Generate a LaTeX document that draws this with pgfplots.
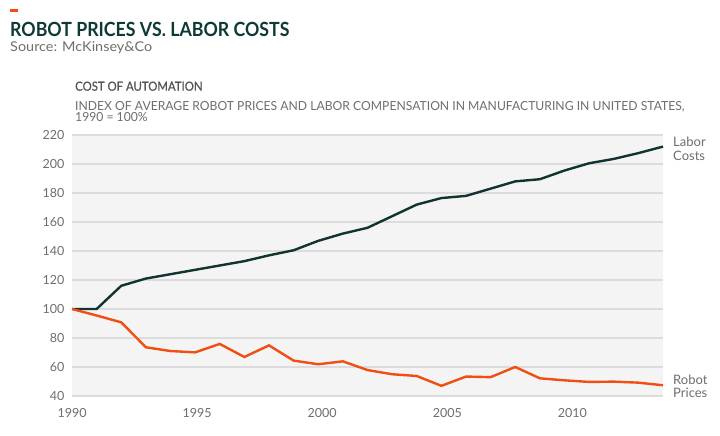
\documentclass[border=0pt]{standalone}
\usepackage{pgfplots}
\pgfplotsset{compat=1.18}
\usepackage{fontspec}
\setmainfont{Lato}
\newfontfamily\latomed{Lato}[FakeBold=0.8]
\definecolor{laborc}{RGB}{16,52,47}
\definecolor{robotc}{RGB}{240,78,18}
\definecolor{bgc}{RGB}{244,244,244}
\definecolor{gridc}{RGB}{220,220,220}
\definecolor{tickc}{RGB}{110,110,110}
\definecolor{titlec}{RGB}{14,58,53}
\definecolor{subc}{RGB}{85,85,85}
\begin{document}
\begin{tikzpicture}[x=1bp,y=1bp]
\useasboundingbox (0,0) rectangle (720,436);
\fill[white] (0,0) rectangle (720,436);
\fill[robotc] (10,427) rectangle (18,423.5);
\node[anchor=base west,inner sep=0,text=titlec,font=\fontsize{19.5bp}{22bp}\selectfont\bfseries] at (10,399) {\scalebox{0.91}[1]{ROBOT PRICES VS. LABOR COSTS}};
\node[anchor=base west,inner sep=0,text=tickc,font=\fontsize{13.5bp}{16bp}\selectfont] at (10,384.6) {\scalebox{1.07}[1]{Source: McKinsey\&Co}};
\node[anchor=base west,inner sep=0,text=subc,font=\fontsize{12.5bp}{15bp}\latomed] at (75,345.3) {\scalebox{0.91}[1]{COST OF AUTOMATION}};
\node[anchor=base west,inner sep=0,text=tickc,font=\fontsize{12.5bp}{14bp}\selectfont] at (75,325) {\scalebox{0.973}[1]{INDEX OF AVERAGE ROBOT PRICES AND LABOR COMPENSATION IN MANUFACTURING IN UNITED STATES,}};
\node[anchor=base west,inner sep=0,text=tickc,font=\fontsize{12.5bp}{14bp}\selectfont] at (75,314) {\scalebox{0.973}[1]{1990 = 100\%}};
\begin{axis}[
  at={(72bp,40bp)}, anchor=south west,
  scale only axis, width=591bp, height=261bp,
  xmin=1990, xmax=2014, ymin=40, ymax=220,
  xtick={1990,1995.08,2000.16,2005.24,2010.32},
  xticklabels={1990,1995,2000,2005,2010},
  ytick={40,60,...,220},
  axis line style={draw=none},
  major tick length=0pt,
  ymajorgrids, grid style={gridc, line width=1.6bp},
  axis background/.style={fill=bgc},
  tick label style={text=tickc, font=\fontsize{12.5bp}{14bp}\selectfont},
  /pgf/number format/assume math mode=true,
  yticklabel style={xshift=-4bp},
  xticklabel style={yshift=-9bp},
  clip=false,
]
\addplot[laborc, line width=2.4bp] coordinates {
(1990,100) (1991,100) (1992,116) (1993,121) (1994,124) (1995,127) (1996,130)
(1997,133) (1998,137) (1999,140.5) (2000,147) (2001,152) (2002,156) (2003,164)
(2004,172) (2005,176.5) (2006,178) (2007,183) (2008,188) (2009,189.5) (2010,195.5)
(2011,200.5) (2012,203.5) (2013,207.5) (2014,212)};
\addplot[robotc, line width=2.4bp] coordinates {
(1990,100) (1991,95.5) (1992,90.8) (1993,73.6) (1994,71) (1995,70.1) (1996,75.9)
(1997,66.9) (1998,74.9) (1999,64.4) (2000,61.9) (2001,63.9) (2002,57.9) (2003,55)
(2004,53.8) (2005,47) (2006,53.4) (2007,53) (2008,60) (2009,52.2) (2010,50.8)
(2011,49.7) (2012,49.9) (2013,49.2) (2014,47.4)};
\end{axis}
\node[anchor=base west,inner sep=0,text=tickc,font=\fontsize{13bp}{15bp}\selectfont] at (673,289) {Labor};
\node[anchor=base west,inner sep=0,text=tickc,font=\fontsize{13bp}{15bp}\selectfont] at (673,275) {Costs};
\node[anchor=base west,inner sep=0,text=tickc,font=\fontsize{13bp}{15bp}\selectfont] at (673,51) {Robot};
\node[anchor=base west,inner sep=0,text=tickc,font=\fontsize{13bp}{15bp}\selectfont] at (673,38) {Prices};
\end{tikzpicture}
\end{document}
